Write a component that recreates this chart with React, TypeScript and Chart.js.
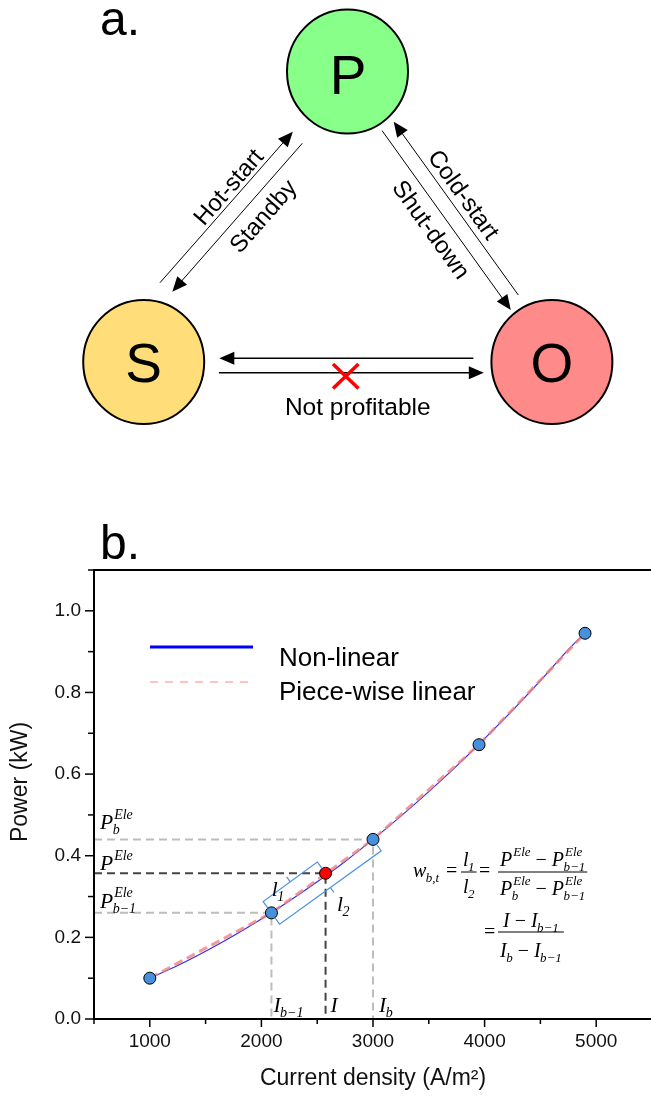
import React, { useEffect, useRef } from 'react';
import { Chart, registerables } from 'chart.js';

Chart.register(...registerables);

// ---------------- data (panel b) ----------------
const breakpointCurrent = [1000, 2090, 3000, 3950, 4900];
const breakpointPower = [0.1, 0.26, 0.44, 0.672, 0.945];
const operatingCurrent = [2575];
const operatingPower = [0.357];
const curveCurrent = [1000, 1250, 1500, 1750, 2000, 2250, 2500, 2750, 3000, 3250, 3500, 3750, 4000, 4250, 4500, 4750, 4900];
const curvePower = [0.1, 0.131, 0.166, 0.204, 0.245, 0.289, 0.336, 0.386, 0.44, 0.497, 0.557, 0.62, 0.687, 0.756, 0.829, 0.905, 0.946];
const xTickLabels = ['1000', '2000', '3000', '4000', '5000'];
const yTickLabels = ['0.0', '0.2', '0.4', '0.6', '0.8', '1.0'];
const xRange = [500, 5500];
const yRange = [0, 1.1];
const legendLabels = ['Non-linear', 'Piece-wise linear'];
const xTitle = 'Current density (A/m²)';
const yTitle = 'Power (kW)';

const SANS = '"Liberation Sans", Arial, Helvetica, sans-serif';
const SERIF = '"Liberation Serif", "Times New Roman", Times, serif';
const OY = 520; // canvas top on the page

type Run = { t?: string; s: number; i?: boolean; sup?: string; sub?: string };

function runs(ctx: CanvasRenderingContext2D, x: number, y: number, list: Run[], draw = true) {
  let cx = x;
  for (const r of list) {
    if (r.t !== undefined) {
      ctx.font = `${r.i ? 'italic ' : ''}${r.s}px ${SERIF}`;
      if (draw) ctx.fillText(r.t, cx, y);
      cx += ctx.measureText(r.t).width;
    } else {
      ctx.font = `italic ${r.s}px ${SERIF}`;
      let w = 0;
      if (r.sup) {
        if (draw) ctx.fillText(r.sup, cx + 1, y - r.s * 0.75);
        w = Math.max(w, ctx.measureText(r.sup).width + 1);
      }
      if (r.sub) {
        if (draw) ctx.fillText(r.sub, cx - 0.5, y + r.s * 0.35);
        w = Math.max(w, ctx.measureText(r.sub).width - 0.5);
      }
      cx += w;
    }
  }
  return cx - x;
}

function frac(ctx: CanvasRenderingContext2D, x: number, barY: number, num: Run[], den: Run[], numOff: number, denOff: number) {
  const wn = runs(ctx, 0, 0, num, false);
  const wd = runs(ctx, 0, 0, den, false);
  const w = Math.max(wn, wd) + 4;
  ctx.beginPath();
  ctx.moveTo(x, barY);
  ctx.lineTo(x + w, barY);
  ctx.lineWidth = 1;
  ctx.strokeStyle = '#000';
  ctx.stroke();
  runs(ctx, x + (w - wn) / 2, barY - numOff, num);
  runs(ctx, x + (w - wd) / 2, barY + denOff, den);
  return w;
}

const F = 20;
const S = 13;
const FL = 21.5;
const SL = 14;
const MINUS: Run = { t: ' \u2212 ', s: F };

const annotPlugin = {
  id: 'annot',
  afterDatasetsDraw(chart: any) {
    const { ctx, chartArea: ca, scales } = chart;
    const xs = (v: number) => scales.x.getPixelForValue(v);
    const ys = (v: number) => scales.y.getPixelForValue(v);
    ctx.save();
    ctx.strokeStyle = '#000';
    ctx.fillStyle = '#000';
    ctx.setLineDash([]);

    // axes frame (left, bottom, top)
    ctx.lineWidth = 2;
    ctx.beginPath();
    ctx.moveTo(ca.right + 4, ca.top);
    ctx.lineTo(ca.left, ca.top);
    ctx.lineTo(ca.left, ca.bottom);
    ctx.lineTo(ca.right + 4, ca.bottom);
    ctx.stroke();

    // tick marks
    ctx.lineWidth = 1.5;
    scales.x.ticks.forEach((t: any) => {
      const px = xs(t.value);
      const major = Math.abs(t.value % 1000) < 1e-6;
      ctx.beginPath();
      ctx.moveTo(px, ca.bottom);
      ctx.lineTo(px, ca.bottom + (major ? 8 : 5));
      ctx.stroke();
    });
    scales.y.ticks.forEach((t: any) => {
      const py = ys(t.value);
      const major = Math.round(t.value * 10) % 2 === 0;
      ctx.beginPath();
      ctx.moveTo(ca.left, py);
      ctx.lineTo(ca.left - (major ? 9 : 6), py);
      ctx.stroke();
    });

    // axis titles
    ctx.font = `23px ${SANS}`;
    ctx.fillStyle = '#111';
    ctx.textAlign = 'center';
    ctx.textBaseline = 'middle';
    ctx.fillText(xTitle, (ca.left + ca.right) / 2, 1079 - OY);
    ctx.save();
    ctx.translate(21, 782 - OY);
    ctx.rotate(-Math.PI / 2);
    ctx.fillText(yTitle, 0, 0);
    ctx.restore();

    // legend
    ctx.textAlign = 'left';
    ctx.textBaseline = 'alphabetic';
    ctx.strokeStyle = '#0000FF';
    ctx.lineWidth = 3;
    ctx.beginPath();
    ctx.moveTo(150, 647 - OY);
    ctx.lineTo(253, 647 - OY);
    ctx.stroke();
    ctx.strokeStyle = '#FFB0B0';
    ctx.lineWidth = 1.5;
    ctx.setLineDash([8, 7]);
    ctx.beginPath();
    ctx.moveTo(150, 682 - OY);
    ctx.lineTo(253, 682 - OY);
    ctx.stroke();
    ctx.setLineDash([]);
    ctx.fillStyle = '#000';
    ctx.font = `26px ${SANS}`;
    ctx.fillText(legendLabels[0], 279, 666 - OY);
    ctx.fillText(legendLabels[1], 279, 700 - OY);

    // brackets l1 and l2
    const P2 = { x: xs(breakpointCurrent[1]), y: ys(breakpointPower[1]) };
    const P3 = { x: xs(breakpointCurrent[2]), y: ys(breakpointPower[2]) };
    const PR = { x: xs(operatingCurrent[0]), y: ys(operatingPower[0]) };
    const bracket = (a: any, b: any, side: number) => {
      const L = Math.hypot(b.x - a.x, b.y - a.y);
      const ux = (b.x - a.x) / L;
      const uy = (b.y - a.y) / L;
      const nx = uy * side;
      const ny = -ux * side;
      const d = 14;
      const leg = 8;
      const tk = 6;
      ctx.beginPath();
      ctx.moveTo(a.x + nx * (d - leg), a.y + ny * (d - leg));
      ctx.lineTo(a.x + nx * d, a.y + ny * d);
      ctx.lineTo(b.x + nx * d, b.y + ny * d);
      ctx.lineTo(b.x + nx * (d - leg), b.y + ny * (d - leg));
      const mx = (a.x + b.x) / 2 + nx * d;
      const my = (a.y + b.y) / 2 + ny * d;
      ctx.moveTo(mx, my);
      ctx.lineTo(mx + nx * tk, my + ny * tk);
      ctx.stroke();
      return { x: mx + nx * tk, y: my + ny * tk };
    };
    ctx.strokeStyle = '#4A90E2';
    ctx.lineWidth = 1.2;
    const t1 = bracket(P2, PR, 1);
    const t2 = bracket(P2, P3, -1);
    ctx.fillStyle = '#000';
    runs(ctx, t1.x - 15, t1.y + 19, [{ t: 'l', s: FL, i: true }, { sub: '1', s: SL }]);
    runs(ctx, t2.x + 3, t2.y + 19, [{ t: 'l', s: FL, i: true }, { sub: '2', s: SL }]);

    // left-side power labels
    const lx = ca.left + 6;
    runs(ctx, lx, ys(breakpointPower[2]) - 10, [{ t: 'P', s: FL, i: true }, { sup: 'Ele', sub: 'b', s: SL }]);
    runs(ctx, lx, ys(operatingPower[0]) - 3, [{ t: 'P', s: FL, i: true }, { sup: 'Ele', s: SL }]);
    runs(ctx, lx, ys(breakpointPower[1]) - 5, [{ t: 'P', s: FL, i: true }, { sup: 'Ele', sub: 'b\u22121', s: SL }]);

    // bottom current labels
    const by = ca.bottom - 7;
    runs(ctx, xs(breakpointCurrent[1]) + 2, by, [{ t: 'I', s: FL, i: true }, { sub: 'b\u22121', s: SL }]);
    runs(ctx, xs(operatingCurrent[0]) + 5, by, [{ t: 'I', s: FL, i: true }]);
    runs(ctx, xs(breakpointCurrent[2]) + 6, by, [{ t: 'I', s: FL, i: true }, { sub: 'b', s: SL }]);

    // formula
    const b1 = 877 - OY;
    const bar1 = 872 - OY;
    runs(ctx, 413, b1, [{ t: 'w', s: F, i: true }, { sub: 'b,t', s: S }]);
    runs(ctx, 446, b1, [{ t: '=', s: F }]);
    frac(ctx, 461, bar1, [{ t: 'l', s: F, i: true }, { sub: '1', s: S }], [{ t: 'l', s: F, i: true }, { sub: '2', s: S }], 6, 21);
    runs(ctx, 479, b1, [{ t: '=', s: F }]);
    frac(
      ctx,
      498,
      bar1,
      [{ t: 'P', s: F, i: true }, { sup: 'Ele', s: S }, MINUS, { t: 'P', s: F, i: true }, { sup: 'Ele', sub: 'b\u22121', s: S }],
      [{ t: 'P', s: F, i: true }, { sup: 'Ele', sub: 'b', s: S }, MINUS, { t: 'P', s: F, i: true }, { sup: 'Ele', sub: 'b\u22121', s: S }],
      6,
      23
    );
    const b2 = 938 - OY;
    const bar2 = 932 - OY;
    runs(ctx, 484, b2, [{ t: '=', s: F }]);
    frac(
      ctx,
      498,
      bar2,
      [{ t: 'I', s: F, i: true }, MINUS, { t: 'I', s: F, i: true }, { sub: 'b\u22121', s: S }],
      [{ t: 'I', s: F, i: true }, { sub: 'b', s: S }, MINUS, { t: 'I', s: F, i: true }, { sub: 'b\u22121', s: S }],
      5,
      25
    );

    ctx.restore();
  },
};

function Arrow({ x1, y1, x2, y2, w = 1, hl = 15, hw = 6.5 }: any) {
  const dx = x2 - x1;
  const dy = y2 - y1;
  const L = Math.hypot(dx, dy);
  const ux = dx / L;
  const uy = dy / L;
  const bx = x2 - ux * hl;
  const by = y2 - uy * hl;
  const px = -uy;
  const py = ux;
  return (
    <g>
      <line x1={x1} y1={y1} x2={bx + ux * 2} y2={by + uy * 2} stroke="#000" strokeWidth={w} />
      <polygon points={`${x2},${y2} ${bx + px * hw},${by + py * hw} ${bx - px * hw},${by - py * hw}`} fill="#000" />
    </g>
  );
}

function Diagram() {
  const lbl = (txt: string, cx: number, cy: number, ang: number) => (
    <text
      transform={`translate(${cx},${cy}) rotate(${ang})`}
      textAnchor="middle"
      dominantBaseline="central"
      fontSize={24}
      fontFamily={SANS}
      fill="#000"
    >
      {txt}
    </text>
  );
  return (
    <svg width={651} height={580} style={{ position: 'absolute', left: 0, top: 0 }}>
      <text x={100} y={35} fontSize={48} fontFamily={SANS} fill="#000">a.</text>
      <text x={100} y={559} fontSize={48} fontFamily={SANS} fill="#000">b.</text>

      <ellipse cx={347.5} cy={71.5} rx={60.5} ry={62} fill="#88FF88" stroke="#000" strokeWidth={2} />
      <ellipse cx={143.7} cy={362} rx={60.5} ry={62} fill="#FFDE7A" stroke="#000" strokeWidth={2} />
      <ellipse cx={551.9} cy={362} rx={60.5} ry={62} fill="#FF8A8A" stroke="#000" strokeWidth={2} />
      <text x={348} y={94} fontSize={55} fontFamily={SANS} textAnchor="middle" fill="#000">P</text>
      <text x={143.7} y={382} fontSize={55} fontFamily={SANS} textAnchor="middle" fill="#000">S</text>
      <text x={552} y={382} fontSize={55} fontFamily={SANS} textAnchor="middle" fill="#000">O</text>

      <Arrow x1={160} y1={282.7} x2={292.8} y2={131.7} />
      <Arrow x1={302.3} y1={143.3} x2={172.3} y2={291.7} />
      <Arrow x1={382.1} y1={130.7} x2={510.8} y2={310} />
      <Arrow x1={518.3} y1={295} x2={393.7} y2={121.7} />
      <Arrow x1={473.4} y1={358.3} x2={219.3} y2={358.3} w={1.5} />
      <Arrow x1={218.9} y1={372.7} x2={483.8} y2={372.7} w={1.5} />

      {lbl('Hot-start', 228, 186.5, -48.8)}
      {lbl('Standby', 262.5, 215.8, -48.8)}
      {lbl('Cold-start', 464.2, 194.2, 54.3)}
      {lbl('Shut-down', 431.7, 229.2, 54.3)}

      <line x1={333} y1={364} x2={358.5} y2={388.5} stroke="#FF0000" strokeWidth={3.5} />
      <line x1={358.5} y1={364} x2={333} y2={388.5} stroke="#FF0000" strokeWidth={3.5} />
      <text x={357.8} y={415} fontSize={24.5} fontFamily={SANS} textAnchor="middle" fill="#000">Not profitable</text>
    </svg>
  );
}

export default function App() {
  const ref = useRef<HTMLCanvasElement>(null);

  useEffect(() => {
    const canvas = ref.current;
    if (!canvas) return;
    const pts = (xa: number[], ya: number[]) => xa.map((x, i) => ({ x, y: ya[i] }));
    const iB = 2;
    const iB1 = 1;
    const cornerB = [
      { x: xRange[0], y: breakpointPower[iB] },
      { x: breakpointCurrent[iB], y: breakpointPower[iB] },
      { x: breakpointCurrent[iB], y: yRange[0] },
    ];
    const cornerB1 = [
      { x: xRange[0], y: breakpointPower[iB1] },
      { x: breakpointCurrent[iB1], y: breakpointPower[iB1] },
      { x: breakpointCurrent[iB1], y: yRange[0] },
    ];
    const cornerOp = [
      { x: xRange[0], y: operatingPower[0] },
      { x: operatingCurrent[0], y: operatingPower[0] },
      { x: operatingCurrent[0], y: yRange[0] },
    ];
    const refLine = (data: any[], color: string, order: number) => ({
      data,
      borderColor: color,
      borderWidth: 2,
      borderDash: [8, 5],
      pointRadius: 0,
      tension: 0,
      fill: false,
      order,
    });

    const chart = new Chart(canvas, {
      type: 'line',
      data: {
        datasets: [
          refLine(cornerB, '#BDBDBD', 9),
          refLine(cornerB1, '#BDBDBD', 8),
          refLine(cornerOp, '#444444', 7),
          {
            label: legendLabels[0],
            data: pts(curveCurrent, curvePower),
            borderColor: '#2E2EE6',
            borderWidth: 1.2,
            pointRadius: 0,
            tension: 0.4,
            cubicInterpolationMode: 'monotone',
            fill: false,
            order: 5,
          } as any,
          {
            label: legendLabels[1],
            data: pts(breakpointCurrent, breakpointPower),
            borderColor: 'rgba(240,130,130,0.8)',
            borderWidth: 3,
            borderDash: [9, 5],
            pointRadius: 0,
            tension: 0,
            fill: false,
            order: 4,
          },
          {
            data: pts(breakpointCurrent, breakpointPower),
            showLine: false,
            pointRadius: 6,
            pointBackgroundColor: '#4690DC',
            pointBorderColor: '#000',
            pointBorderWidth: 1,
            order: 2,
          },
          {
            data: pts(operatingCurrent, operatingPower),
            showLine: false,
            pointRadius: 6,
            pointBackgroundColor: '#FF0000',
            pointBorderColor: '#000',
            pointBorderWidth: 1,
            order: 1,
          },
        ],
      },
      options: {
        responsive: false,
        maintainAspectRatio: false,
        devicePixelRatio: 1,
        animation: false,
        layout: { padding: { top: 50, right: 8, left: 0, bottom: 0 } },
        plugins: { legend: { display: false }, tooltip: { enabled: false } },
        scales: {
          x: {
            type: 'linear',
            position: 'bottom',
            min: xRange[0],
            max: xRange[1],
            grid: { display: false },
            border: { display: false },
            ticks: {
              stepSize: 500,
              autoSkip: false,
              maxRotation: 0,
              padding: 3,
              color: '#111',
              font: { family: SANS, size: 19 },
              callback: (v: any) => {
                const s = String(Math.round(Number(v)));
                return xTickLabels.includes(s) ? s : '';
              },
            },
            afterFit: (scale: any) => {
              scale.height = 81;
            },
          },
          y: {
            type: 'linear',
            min: yRange[0],
            max: yRange[1],
            grid: { display: false },
            border: { display: false },
            ticks: {
              stepSize: 0.1,
              autoSkip: false,
              padding: 5,
              color: '#111',
              font: { family: SANS, size: 19 },
              callback: (v: any) => {
                const lab = yTickLabels.find((l) => Math.abs(parseFloat(l) - Number(v)) < 1e-6);
                return lab ?? '';
              },
            },
            afterFit: (scale: any) => {
              scale.width = 94;
            },
          },
        },
      } as any,
      plugins: [annotPlugin],
    });
    return () => chart.destroy();
  }, []);

  return (
    <div
      style={{
        position: 'absolute',
        left: 0,
        top: 0,
        width: 651,
        height: 1100,
        overflow: 'hidden',
        background: '#fff',
      }}
    >
      <canvas
        ref={ref}
        width={660}
        height={580}
        style={{ position: 'absolute', left: 0, top: OY, width: 660, height: 580, display: 'block' }}
      />
      <Diagram />
    </div>
  );
}
